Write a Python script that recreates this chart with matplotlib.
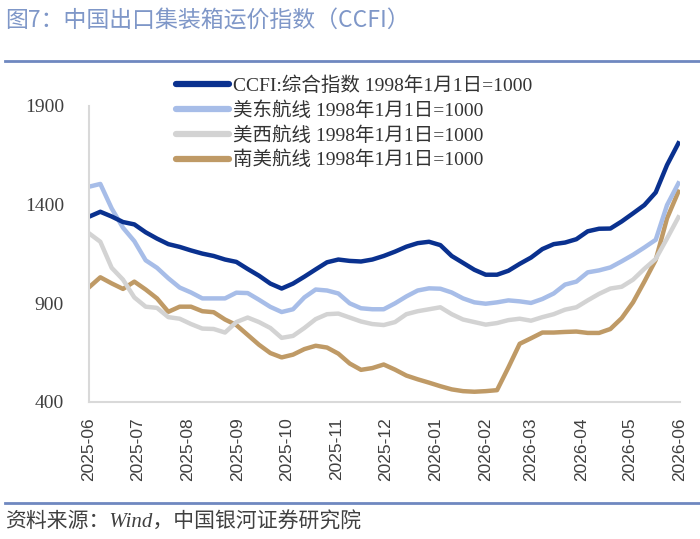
import matplotlib
matplotlib.use("Agg")
import matplotlib.pyplot as plt
import matplotlib.dates as mdates
from matplotlib.lines import Line2D
import pandas as pd

# weekly CCFI readings
dates = pd.date_range("2025-06-06", periods=53, freq="7D")

ccfi = [1339, 1364, 1340, 1312, 1300, 1260, 1228, 1200, 1186, 1168,
        1152, 1140, 1122, 1110, 1074, 1040, 1000, 975, 1000, 1035,
        1072, 1108, 1122, 1115, 1112, 1122, 1140, 1162, 1187, 1205,
        1212, 1195, 1140, 1105, 1070, 1045, 1045, 1065, 1100, 1132,
        1175, 1200, 1208, 1225, 1265, 1278, 1279, 1315, 1356, 1398,
        1462, 1601, 1711]

us_east = [1491, 1505, 1381, 1283, 1215, 1118, 1080, 1027, 980, 955,
           925, 925, 925, 954, 952, 918, 882, 856, 870, 930,
           970, 965, 950, 900, 875, 870, 870, 900, 935, 965,
           976, 974, 955, 925, 905, 898, 905, 915, 910, 902,
           922, 950, 995, 1010, 1057, 1067, 1082, 1113, 1146, 1183,
           1222, 1398, 1508]

us_west = [1255, 1212, 1080, 1020, 930, 883, 877, 830, 822, 795,
           772, 770, 752, 805, 828, 805, 775, 725, 735, 775,
           820, 845, 848, 828, 808, 795, 790, 805, 845, 860,
           870, 880, 845, 818, 805, 792, 800, 815, 822, 812,
           830, 845, 868, 880, 915, 948, 975, 984, 1020, 1075,
           1125, 1229, 1336]

s_america = [981, 1032, 1001, 973, 1010, 970, 925, 857, 883, 883,
             860, 855, 818, 790, 740, 690, 648, 626, 640, 668,
             685, 676, 645, 595, 563, 572, 590, 564, 534, 515,
             498, 480, 464, 455, 452, 455, 460, 575, 695, 723,
             752, 752, 755, 757, 750, 750, 770, 825, 905, 1010,
             1120, 1331, 1466]

labels = ["CCFI:综合指数 1998年1月1日=1000",
          "美东航线 1998年1月1日=1000",
          "美西航线 1998年1月1日=1000",
          "南美航线 1998年1月1日=1000"]
colors = ["#0a318f", "#a7bde8", "#d3d3d3", "#bf9a66"]

yticks = [400, 900, 1400, 1900]

serif = ["Liberation Serif", "Noto Sans CJK SC"]

fig = plt.figure(figsize=(7, 5.39), dpi=100)
ax = fig.add_axes([89/700, 1-402/539, (680-89)/700, (402-106)/539])

series = [ccfi, us_east, us_west, s_america]
# draw back to front so CCFI sits on top
for vals, c in reversed(list(zip(series, colors))):
    ax.plot(dates, vals, color=c, lw=3.2, solid_joinstyle="round")

ax.set_ylim(400, 1900)
ax.set_yticks(yticks)
ax.set_xlim(dates[0], dates[-1] + pd.Timedelta(days=1))
ticks = [dates[0] + pd.DateOffset(months=k) for k in range(13)]
ax.set_xticks(ticks)
ax.xaxis.set_major_formatter(mdates.DateFormatter("%Y-%m"))
for lab in ax.get_xticklabels():
    lab.set_rotation(90)
    lab.set_fontfamily("Liberation Sans")
    lab.set_fontsize(12.5)
    lab.set_color("#404040")
for lab in ax.get_yticklabels():
    lab.set_fontfamily("Liberation Serif")
    lab.set_fontsize(14)
    lab.set_color("#404040")
ax.tick_params(length=0)
ax.tick_params(axis="y", pad=18)
ax.tick_params(axis="x", pad=11)

for s in ["top", "right"]:
    ax.spines[s].set_visible(False)
for s in ["left", "bottom"]:
    ax.spines[s].set_color("#d9d9d9")
    ax.spines[s].set_linewidth(1.5)

handles = [Line2D([], [], color=c, lw=4.5, solid_capstyle="round") for c in colors]
fig.legend(handles, labels, loc="upper left",
           bbox_to_anchor=(176/700, 1-76/539), frameon=False,
           prop={"family": serif, "size": 14}, handlelength=2.75,
           handletextpad=0.2, labelspacing=0.33, borderpad=0, borderaxespad=0,
           labelcolor="#333333")

fig.text(5/700, 1-20/539, "图7：中国出口集装箱运价指数（CCFI）", fontsize=16.5,
         color="#7f97c8", va="center", ha="left",
         family=["Noto Sans CJK SC", "DejaVu Sans"])
fig.text(5/700, 1-523/539, "资料来源：Wind，中国银河证券研究院", fontsize=15,
         color="#404040", va="center", ha="left", style="italic",
         family=["Liberation Serif", "Noto Sans CJK SC"])

fig.add_artist(Line2D([5/700, 1], [1-61/539, 1-61/539], color="#6f88c0", lw=2))
fig.add_artist(Line2D([5/700, 1], [1-503/539, 1-503/539], color="#6f88c0", lw=2))

fig.savefig("out.png", dpi=100)
